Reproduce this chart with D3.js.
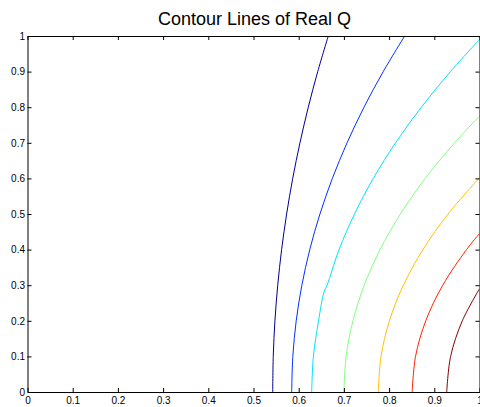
<!DOCTYPE html>
<html>
<head>
<meta charset="utf-8">
<script src="https://cdn.jsdelivr.net/npm/d3@7"></script>
<style>
  html, body { margin: 0; padding: 0; background: #fff; }
  svg { display: block; font-family: "Liberation Sans", Arial, sans-serif; }
</style>
</head>
<body>
<svg id="chart" width="480" height="407"></svg>
<script>
const title = "Contour Lines of Real Q";
const xTicks = [0, 0.1, 0.2, 0.3, 0.4, 0.5, 0.6, 0.7, 0.8, 0.9, 1];
const yTicks = [0, 0.1, 0.2, 0.3, 0.4, 0.5, 0.6, 0.7, 0.8, 0.9, 1];
const xTickLabels = ["0", "0.1", "0.2", "0.3", "0.4", "0.5", "0.6", "0.7", "0.8", "0.9", "1"];
const yTickLabels = ["0", "0.1", "0.2", "0.3", "0.4", "0.5", "0.6", "0.7", "0.8", "0.9", "1"];

// contour levels (lowest to highest), colours from the jet colormap
const levelColors = ["#00008F", "#0030FF", "#00E0FF", "#80FF80", "#FFC000", "#FF2000", "#800000"];

// each contour as [x, y] points
const contour1 = [[0.5425,0],[0.5437,0.1],[0.5474,0.2],[0.5536,0.3],[0.5622,0.4],[0.5733,0.5],[0.5868,0.6],[0.6028,0.7],[0.6212,0.8],[0.6421,0.9],[0.6655,1.0]];
const contour2 = [[0.5845,0],[0.587,0.1],[0.5945,0.2],[0.607,0.3],[0.6245,0.4],[0.647,0.5],[0.6745,0.6],[0.707,0.7],[0.7445,0.8],[0.787,0.9],[0.8345,1.0]];
const contour3 = [[0.6287,0],[0.6325,0.1],[0.6439,0.2],[0.656,0.281],[0.6628,0.3],[0.6893,0.4],[0.7235,0.5],[0.7651,0.6],[0.8144,0.7],[0.8713,0.8],[0.9357,0.9],[1.0,0.99]];
const contour4 = [[0.700,0],[0.705,0.1],[0.720,0.2],[0.745,0.3],[0.780,0.4],[0.825,0.5],[0.880,0.6],[0.945,0.7],[1.0,0.775]];
const contour5 = [[0.776,0],[0.7822,0.1],[0.8007,0.2],[0.8316,0.3],[0.8749,0.4],[0.9305,0.5],[1.0,0.602]];
const contour6 = [[0.851,0],[0.8585,0.1],[0.8811,0.2],[0.9187,0.3],[0.9713,0.4],[1.0,0.445]];
const contour7 = [[0.9275,0],[0.9361,0.1],[0.962,0.2],[1.0,0.29]];
const contours = [contour1, contour2, contour3, contour4, contour5, contour6, contour7];

const svg = d3.select("#chart");
const x = d3.scaleLinear().domain([0, 1]).range([27.5, 479.5]);
const y = d3.scaleLinear().domain([0, 1]).range([392, 36]);

// title
svg.append("text")
  .attr("x", 254.5).attr("y", 25)
  .attr("text-anchor", "middle")
  .attr("font-size", "18px")
  .attr("fill", "#000")
  .text(title);

// contour lines
const line = d3.line().x(d => x(d[0])).y(d => y(d[1])).curve(d3.curveCatmullRom.alpha(0.5));
svg.append("clipPath").attr("id", "clip")
  .append("rect").attr("x", x(0)).attr("y", y(1)).attr("width", x(1) - x(0)).attr("height", y(0) - y(1));
svg.append("g").attr("clip-path", "url(#clip)")
  .selectAll("path").data(contours).join("path")
  .attr("d", line)
  .attr("fill", "none")
  .attr("stroke", (d, i) => levelColors[i])
  .attr("stroke-width", 1);

// axes (ticks pointing inward, box on all sides)
const fmtX = (d, i) => xTickLabels[i];
const fmtY = (d, i) => yTickLabels[i];
const axStyle = g => {
  g.selectAll("path.domain").attr("stroke", "#000").attr("stroke-width", 1);
  g.selectAll(".tick line").attr("stroke", "#000");
  g.selectAll("text").attr("font-size", "10px").attr("fill", "#000").attr("font-family", "Liberation Sans, Arial, sans-serif");
};

svg.append("g").attr("transform", `translate(0,${y(0)})`)
  .call(d3.axisBottom(x).tickValues(xTicks).tickFormat(fmtX).tickSizeInner(-4).tickSizeOuter(0).tickPadding(5))
  .call(axStyle);
svg.append("g").attr("transform", `translate(0,${y(1)})`)
  .call(d3.axisTop(x).tickValues(xTicks).tickFormat("").tickSizeInner(-4).tickSizeOuter(0))
  .call(axStyle);
svg.append("g").attr("transform", `translate(${x(0)},0)`)
  .call(d3.axisLeft(y).tickValues(yTicks).tickFormat(fmtY).tickSizeInner(-4).tickSizeOuter(0).tickPadding(2.5))
  .call(axStyle);
svg.append("g").attr("transform", `translate(${x(1)},0)`)
  .call(d3.axisRight(y).tickValues(yTicks).tickFormat("").tickSizeInner(-4).tickSizeOuter(0))
  .call(axStyle);
</script>
</body>
</html>
